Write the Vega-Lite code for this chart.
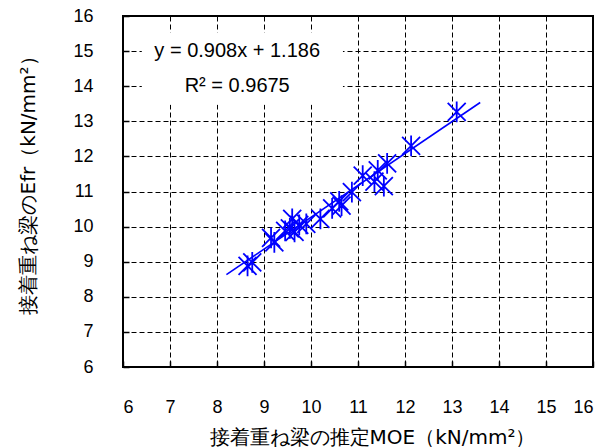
{
  "$schema": "https://vega.github.io/schema/vega-lite/v6.json",
  "autosize": "none",
  "width": 470,
  "height": 351,
  "padding": {"left": 123, "top": 16, "right": 21, "bottom": 80},
  "background": "white",
  "config": {
    "view": {"stroke": "black", "strokeWidth": 2},
    "axis": {
      "grid": true,
      "gridColor": "black",
      "gridOpacity": 1,
      "gridWidth": 1,
      "gridDash": [5, 3],
      "domain": false,
      "tickColor": "black",
      "tickSize": -6,
      "tickWidth": 1.5,
      "labelFont": "Liberation Sans",
      "labelFontSize": 18,
      "labelColor": "black",
      "labelOverlap": false,
      "titleFontWeight": "normal",
      "titleColor": "black"
    },
    "axisX": {
      "values": [6, 7, 8, 9, 10, 11, 12, 13, 14, 15, 16],
      "labelPadding": 37,
      "labelDx": -3,
      "titleFont": "DejaVu Sans",
      "titleFontSize": 20,
      "titleX": 249,
      "titleY": 70,
      "titleAlign": "center",
      "titleBaseline": "middle"
    },
    "axisY": {
      "values": [6, 7, 8, 9, 10, 11, 12, 13, 14, 15, 16],
      "labelPadding": 36,
      "labelDy": 2,
      "titleFont": "DejaVu Sans",
      "titleFontSize": 20,
      "titleX": -95,
      "titleY": 164,
      "titleAlign": "center",
      "titleBaseline": "middle",
      "titleAngle": -90
    }
  },
  "datasets": {
    "pts": [
      {"moe": 8.65, "efr": 8.88},
      {"moe": 8.75, "efr": 8.98},
      {"moe": 9.15, "efr": 9.68},
      {"moe": 9.22, "efr": 9.55},
      {"moe": 9.45, "efr": 9.88},
      {"moe": 9.55, "efr": 9.95},
      {"moe": 9.6, "efr": 10.22},
      {"moe": 9.65, "efr": 9.85},
      {"moe": 9.75, "efr": 10.05},
      {"moe": 9.9, "efr": 10.08},
      {"moe": 10.2, "efr": 10.22},
      {"moe": 10.45, "efr": 10.52},
      {"moe": 10.6, "efr": 10.72},
      {"moe": 10.65, "efr": 10.6},
      {"moe": 10.87, "efr": 10.98},
      {"moe": 11.1, "efr": 11.45},
      {"moe": 11.35, "efr": 11.28},
      {"moe": 11.42, "efr": 11.6},
      {"moe": 11.55, "efr": 11.15},
      {"moe": 11.62, "efr": 11.8},
      {"moe": 12.13, "efr": 12.3},
      {"moe": 13.1, "efr": 13.27}
    ],
    "trend": [
      {"moe": 8.2, "efr": 8.632},
      {"moe": 13.6, "efr": 13.535}
    ],
    "notes": [
      {"text": "y = 0.908x + 1.186", "line": 1},
      {"text": "R² = 0.9675", "line": 2}
    ]
  },
  "layer": [
    {
      "data": {"name": "pts"},
      "mark": {
        "type": "point",
        "shape": "M-1,-1L1,1M-1,1L1,-1M0,-1.15L0,1.15",
        "filled": false,
        "stroke": "#0000FF",
        "strokeWidth": 1.8,
        "size": 324,
        "opacity": 1
      },
      "encoding": {
        "x": {
          "field": "moe",
          "type": "quantitative",
          "scale": {"domain": [6, 16], "nice": false, "zero": false},
          "axis": {"title": "接着重ね梁の推定MOE（kN/mm²）"}
        },
        "y": {
          "field": "efr",
          "type": "quantitative",
          "scale": {"domain": [6, 16], "nice": false, "zero": false},
          "axis": {"title": "接着重ね梁のEfr（kN/mm²）"}
        }
      }
    },
    {
      "data": {"name": "trend"},
      "mark": {"type": "line", "color": "#0000FF", "strokeWidth": 1.6},
      "encoding": {
        "x": {"field": "moe", "type": "quantitative", "axis": {"title": "接着重ね梁の推定MOE（kN/mm²）"}},
        "y": {"field": "efr", "type": "quantitative", "axis": {"title": "接着重ね梁のEfr（kN/mm²）"}}
      }
    },
    {
      "data": {"values": [{}]},
      "mark": {"type": "rect", "fill": "white", "stroke": null},
      "encoding": {
        "x": {"datum": 6.4, "type": "quantitative", "axis": {"title": "接着重ね梁の推定MOE（kN/mm²）"}},
        "x2": {"datum": 10.68},
        "y": {"datum": 15.53, "type": "quantitative", "axis": {"title": "接着重ね梁のEfr（kN/mm²）"}},
        "y2": {"datum": 13.47}
      }
    },
    {
      "data": {"name": "notes"},
      "transform": [{"filter": "datum.line == 1"}],
      "mark": {"type": "text", "font": "Liberation Sans", "fontSize": 20, "color": "black", "align": "center", "baseline": "middle"},
      "encoding": {
        "x": {"datum": 8.43, "type": "quantitative", "axis": {"title": "接着重ね梁の推定MOE（kN/mm²）"}},
        "y": {"datum": 15, "type": "quantitative", "axis": {"title": "接着重ね梁のEfr（kN/mm²）"}},
        "text": {"field": "text"}
      }
    },
    {
      "data": {"name": "notes"},
      "transform": [{"filter": "datum.line == 2"}],
      "mark": {"type": "text", "font": "Liberation Sans", "fontSize": 20, "color": "black", "align": "center", "baseline": "middle"},
      "encoding": {
        "x": {"datum": 8.43, "type": "quantitative", "axis": {"title": "接着重ね梁の推定MOE（kN/mm²）"}},
        "y": {"datum": 14, "type": "quantitative", "axis": {"title": "接着重ね梁のEfr（kN/mm²）"}},
        "text": {"field": "text"}
      }
    }
  ]
}
